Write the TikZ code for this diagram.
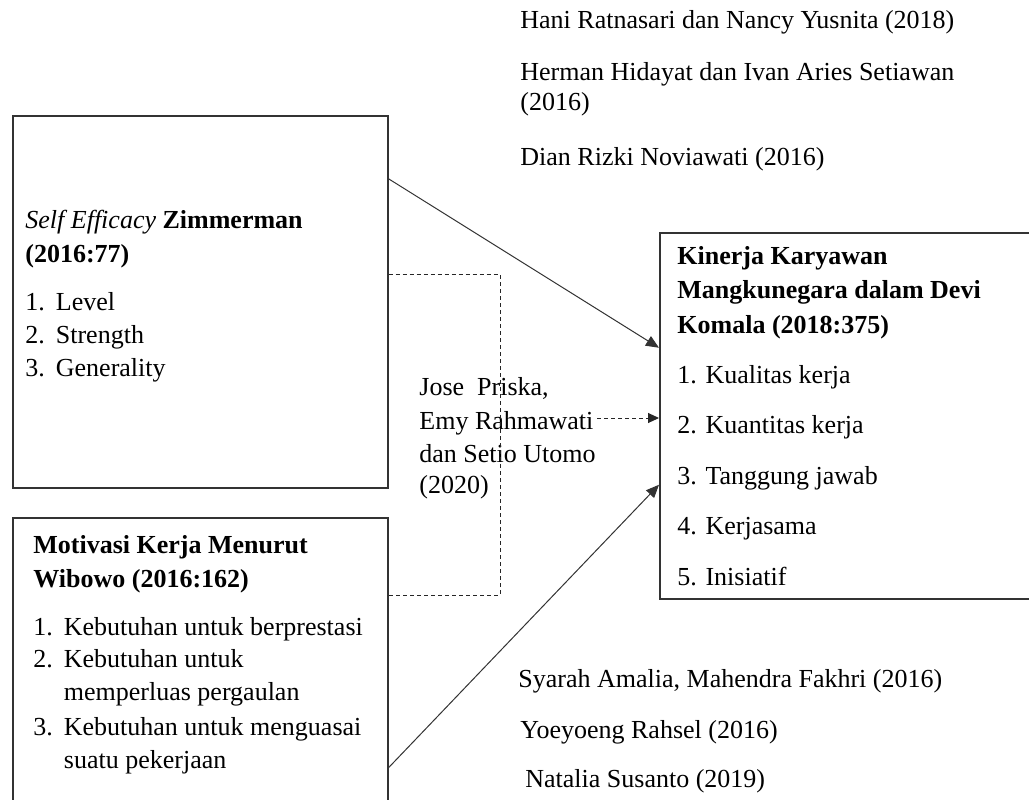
\documentclass[tikz,border=0pt]{standalone}
\usepackage{fontspec}
\setmainfont{Liberation Serif}
\usetikzlibrary{arrows.meta}

\newcommand{\butir}[1]{\makebox[15.25pt][l]{#1.}}
\newcommand{\lanjut}{\makebox[15.25pt]{}}

\tikzset{
  kotak/.style={draw=black!80, line width=0.75pt, inner sep=0pt, anchor=north west},
  teks/.style={inner sep=0pt, anchor=base west, align=left, font=\fontsize{13pt}{16.5pt}\selectfont},
  panah/.style={draw=black!80, line width=0.5pt, -{Triangle[length=6.5pt,width=5.5pt]}},
  putus/.style={draw=black!85, line width=0.5pt, dash pattern=on 2pt off 1.5pt}
}

\begin{document}
\begin{tikzpicture}[x=0.5pt,y=-0.5pt]
\useasboundingbox (0,0) rectangle (1029,799);
\clip (0,0) rectangle (1029,799);

% Kotak variabel
\node[kotak, minimum width=187.5pt, minimum height=186pt] (efikasi) at (12,115) {};
\node[kotak, minimum width=187.5pt, minimum height=156pt] (motivasi) at (12,517) {};
\node[kotak, minimum width=190pt, minimum height=183pt] (kinerja) at (659,232) {};

% Isi kotak (titik = garis dasar baris terakhir)
\node[teks] (isiefikasi) at (25,376) {{\itshape Self Efficacy} \textbf{Zimmerman}\\[0.5pt]
  \textbf{(2016:77)}\\[7.5pt]
  \butir{1}Level\\ \butir{2}Strength\\ \butir{3}Generality};
\node[teks] (isimotivasi) at (33,768) {\textbf{Motivasi Kerja Menurut}\\[0.5pt]
  \textbf{Wibowo (2016:162)}\\[7.5pt]
  \butir{1}Kebutuhan untuk berprestasi\\[-0.5pt]
  \butir{2}Kebutuhan untuk\\ \lanjut memperluas pergaulan\\[1pt]
  \butir{3}Kebutuhan untuk menguasai\\ \lanjut suatu pekerjaan};
\node[teks] (isikinerja) at (677,585) {\textbf{Kinerja Karyawan}\\[0.75pt]
  \textbf{Mangkunegara dalam Devi}\\[0.75pt]
  \textbf{Komala (2018:375)}\\[8.5pt]
  1. Kualitas kerja\\[8.75pt] 2. Kuantitas kerja\\[8.75pt] 3. Tanggung jawab\\[8.75pt]
  4. Kerjasama\\[8.75pt] 5. Inisiatif};

% Peneliti terdahulu
\node[teks] (jose) at (419,493) {Jose\ \ Priska,\\[0.5pt] Emy Rahmawati\\ dan Setio Utomo\\[-1pt] (2020)};
\node[teks] (hani) at (520,28) {Hani Ratnasari dan Nancy Yusnita (2018)};
\node[teks] (herman) at (520,110) {Herman Hidayat dan Ivan Aries Setiawan\\[-1.5pt] (2016)};
\node[teks] (dian) at (520,165) {Dian Rizki Noviawati (2016)};
\node[teks] (syarah) at (518,687) {Syarah Amalia, Mahendra Fakhri (2016)};
\node[teks] (yoeyoeng) at (520,738) {Yoeyoeng Rahsel (2016)};
\node[teks] (natalia) at (525,787) {Natalia Susanto (2019)};

% Panah
\draw[panah] ([yshift=61.5pt]efikasi.east) -- ([yshift=34pt]kinerja.west);
\draw[panah] ([yshift=-47pt]motivasi.east) -- ([yshift=-34.5pt]kinerja.west);

\coordinate (simpul) at (500,595);
\draw[putus] ([yshift=13.5pt]efikasi.east) -| (simpul) -- (simpul -| motivasi.east);
\coordinate (titik) at (597,418);
\draw[putus, -{Triangle[length=5.5pt,width=5pt]}] (titik) -- (titik -| kinerja.west);

\end{tikzpicture}
\end{document}
